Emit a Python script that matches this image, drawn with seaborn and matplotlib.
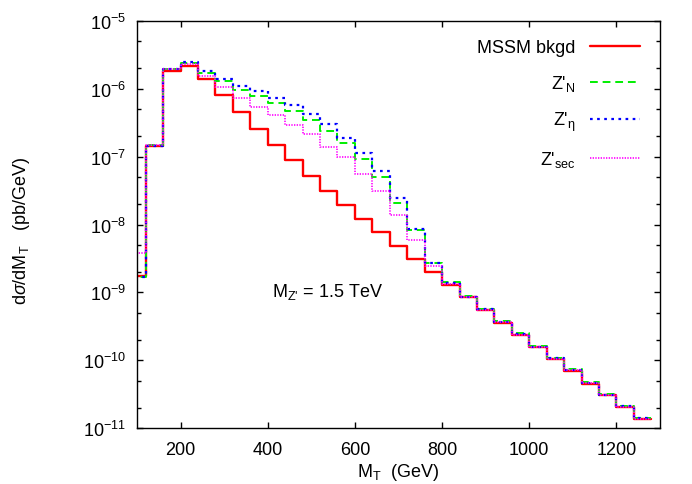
import numpy as np
import pandas as pd
import matplotlib
matplotlib.use("Agg")
import matplotlib.pyplot as plt
import seaborn as sns
from matplotlib.ticker import LogLocator, NullFormatter, FixedLocator

# ---- data (bin width 40 GeV, edges 80..1280) ----
bin_edges = [80 + 40 * i for i in range(31)]
bin_centers = [100 + 40 * i for i in range(30)]

mssm_bkgd = [1.76e-9, 1.45e-7, 1.84e-6, 2.18e-6, 1.38e-6, 8.05e-7, 4.46e-7, 2.57e-7,
             1.48e-7, 8.8e-8, 5.2e-8, 3.13e-8, 1.93e-8, 1.2e-8, 7.65e-9, 4.9e-9,
             3.1e-9, 1.97e-9, 1.28e-9, 8.5e-10, 5.5e-10, 3.6e-10, 2.35e-10, 1.55e-10,
             1.04e-10, 7.0e-11, 4.55e-11, 3.04e-11, 2.04e-11, 1.36e-11]
zp_N = [1.7e-9, 1.5e-7, 1.94e-6, 2.36e-6, 1.7e-6, 1.31e-6, 9.6e-7, 7.7e-7,
        6.2e-7, 4.7e-7, 3.45e-7, 2.4e-7, 1.56e-7, 9.3e-8, 5.0e-8, 2.1e-8,
        8.2e-9, 2.75e-9, 1.42e-9, 8.9e-10, 5.8e-10, 3.8e-10, 2.5e-10, 1.64e-10,
        1.1e-10, 7.4e-11, 4.8e-11, 3.2e-11, 2.15e-11, 1.44e-11]
zp_eta = [1.7e-9, 1.45e-7, 1.94e-6, 2.44e-6, 1.84e-6, 1.38e-6, 1.08e-6, 9.1e-7,
          7.4e-7, 5.7e-7, 4.3e-7, 3.0e-7, 1.87e-7, 1.13e-7, 6.1e-8, 2.46e-8,
          8.5e-9, 2.68e-9, 1.38e-9, 8.7e-10, 5.65e-10, 3.7e-10, 2.42e-10, 1.6e-10,
          1.07e-10, 7.2e-11, 4.7e-11, 3.12e-11, 2.1e-11, 1.4e-11]
zp_sec = [3.8e-9, 1.5e-7, 1.94e-6, 2.3e-6, 1.55e-6, 1.05e-6, 7.3e-7, 5.4e-7,
          4.05e-7, 2.95e-7, 2.14e-7, 1.38e-7, 9.7e-8, 5.5e-8, 3.1e-8, 1.4e-8,
          6.0e-9, 2.45e-9, 1.33e-9, 8.6e-10, 5.55e-10, 3.65e-10, 2.4e-10, 1.58e-10,
          1.06e-10, 7.1e-11, 4.6e-11, 3.08e-11, 2.07e-11, 1.38e-11]

x_ticks = [200, 400, 600, 800, 1000, 1200]
y_ticks = [1e-11, 1e-10, 1e-9, 1e-8, 1e-7, 1e-6, 1e-5]

labels = ["MSSM bkgd", r"Z'$_{\mathrm{N}}$", r"Z'$_{\text{η}}$", r"Z'$_{\mathrm{sec}}$"]
series = [mssm_bkgd, zp_N, zp_eta, zp_sec]
colors = ["#ff0000", "#00ee00", "#0000ff", "#ff00ff"]
styles = ["-", (0, (4, 2.5)), (0, (1.2, 2.0)), (0, (0.8, 0.8))]
widths = [1.7, 1.4, 1.6, 1.2]

sns.set_style("ticks")
plt.rcParams["font.family"] = ["Liberation Sans", "DejaVu Sans"]
plt.rcParams["mathtext.fontset"] = "custom"
plt.rcParams["mathtext.rm"] = "Liberation Sans"
plt.rcParams["mathtext.it"] = "Liberation Sans:italic"
plt.rcParams["mathtext.bf"] = "Liberation Sans:bold"
for k in ["text.color", "axes.labelcolor", "xtick.color", "ytick.color", "axes.edgecolor"]:
    plt.rcParams[k] = "black"

FS = 13

fig = plt.figure(figsize=(6.92, 4.85), dpi=100)
ax = fig.add_axes([137 / 692, 1 - 429.3 / 485, (660 - 137) / 692, (429.3 - 21.7) / 485])

for vals, lab, c, ls, lw in zip(series, labels, colors, styles, widths):
    df = pd.DataFrame({"MT": bin_centers, "w": vals})
    sns.histplot(data=df, x="MT", weights="w", bins=bin_edges, element="step",
                 fill=False, color=c, linestyle=ls, linewidth=lw, label=lab, ax=ax)

ax.set_yscale("log")
ax.set_xlim(100, 1300)
ax.set_ylim(1e-11, 1e-5)
ax.xaxis.set_major_locator(FixedLocator(x_ticks))
ax.yaxis.set_major_locator(FixedLocator(y_ticks))
minor = [m * t for t in y_ticks[:-1] for m in (2.0, 5.0)]
ax.yaxis.set_minor_locator(FixedLocator(minor))
ax.yaxis.set_minor_formatter(NullFormatter())
ax.tick_params(which="both", direction="in", top=True, right=True, labelsize=FS, width=1)
ax.tick_params(which="major", length=4.5)
ax.tick_params(axis="x", which="major", pad=9)
ax.tick_params(axis="y", which="major", pad=8)
ax.tick_params(which="minor", length=3)
for s in ax.spines.values():
    s.set_linewidth(1.0)

ax.set_xlabel(r"M$_\mathrm{T}$  (GeV)", fontsize=FS)
ax.xaxis.set_label_coords(0.5, -0.08)
ax.set_ylabel(r"d$\sigma$/dM$_\mathrm{T}$   (pb/GeV)", fontsize=FS)
ax.yaxis.set_label_coords(-0.20, 0.487)

ax.text(409, 1.05e-9, r"M$_{\text{Z'}}$ = 1.5 TeV", fontsize=FS, ha="left", va="center")

ax.legend(loc="upper right", frameon=False, markerfirst=False, fontsize=FS,
          handlelength=2.75, handletextpad=0.8, labelspacing=0.92,
          borderaxespad=0.3, bbox_to_anchor=(0.985, 0.985))

fig.savefig("out.png", dpi=100)
